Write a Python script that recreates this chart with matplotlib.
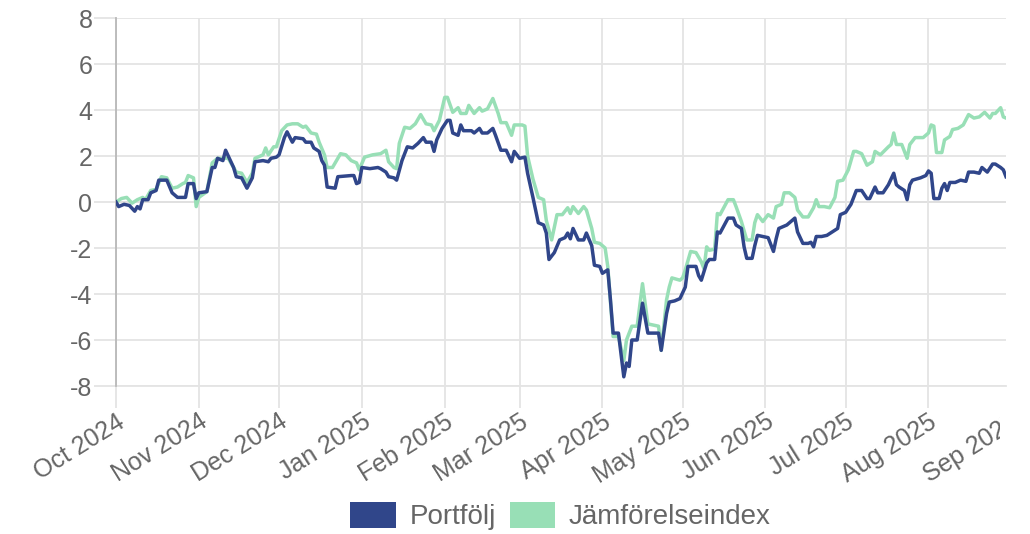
import pandas as pd
import matplotlib
matplotlib.use("Agg")
import matplotlib.pyplot as plt
from matplotlib.patches import Patch
from matplotlib.transforms import Bbox, TransformedBbox

plt.rcParams['font.family'] = ['Liberation Sans', 'DejaVu Sans']

start = pd.Timestamp('2024-10-01')

# Portfölj: days since start, cumulative return (%)
port_days = [0, 1, 3, 5, 7, 8, 9, 10, 12, 13, 15, 16, 19, 21, 23, 26, 27, 29, 30, 31,
             34, 36, 37, 38, 40, 41, 43, 44, 45, 47, 49, 51, 52, 55, 57, 58, 60, 61, 63, 64,
             66, 67, 70, 71, 73, 74, 76, 77, 78, 79, 82, 83, 88, 89, 90, 91, 92, 95, 98, 99,
             101, 102, 104, 105, 107, 109, 111, 113, 115, 116, 118, 119, 120, 122, 124, 125, 126, 128, 129, 130,
             131, 133, 134, 136, 137, 139, 141, 142, 144, 146, 148, 149, 151, 153, 154, 156, 158, 160, 161, 162,
             164, 166, 168, 169, 170, 171, 173, 175, 176, 178, 179, 181, 182, 184, 185, 186, 188, 190, 191, 192,
             193, 195, 197, 199, 203, 204, 206, 207, 209, 211, 213, 214, 217, 218, 219, 221, 222, 224, 225, 226,
             229, 231, 232, 234, 235, 236, 238, 239, 240, 242, 244, 246, 247, 248, 249, 251, 253, 254, 255, 257,
             259, 260, 261, 262, 264, 266, 268, 270, 271, 273, 275, 277, 279, 281, 282, 284, 285, 287, 289, 291,
             292, 293, 295, 296, 297, 298, 301, 303, 304, 305, 306, 308, 309, 310, 311, 312, 314, 316, 318, 319,
             321, 323, 324, 326, 328, 329, 331, 332, 333]
port_vals = [0.0, -0.2, -0.1, -0.15, -0.4, -0.2, -0.3, 0.1, 0.1, 0.4, 0.5, 0.95, 0.95, 0.4, 0.2, 0.2, 0.8, 0.8, 0.15, 0.4,
             0.45, 1.5, 1.5, 1.9, 1.8, 2.25, 1.75, 1.5, 1.1, 1.05, 0.6, 1.05, 1.75, 1.8, 1.75, 1.9, 1.95, 2.05, 2.8, 3.05,
             2.6, 2.8, 2.75, 2.6, 2.6, 2.35, 2.2, 1.8, 1.6, 0.65, 0.6, 1.1, 1.15, 1.15, 0.8, 0.85, 1.5, 1.45, 1.5, 1.45,
             1.3, 1.1, 1.05, 0.95, 1.8, 2.4, 2.35, 2.55, 2.8, 2.6, 2.6, 2.2, 2.7, 3.2, 3.55, 3.55, 3.0, 2.9, 3.35, 3.1,
             3.1, 3.1, 3.0, 3.2, 3.0, 3.0, 3.2, 2.9, 2.25, 2.25, 1.75, 2.2, 1.9, 1.95, 1.25, 0.2, -0.9, -1.0, -1.35, -2.5,
             -2.2, -1.65, -1.55, -1.35, -1.6, -1.15, -1.65, -1.65, -1.35, -1.9, -2.75, -2.8, -3.1, -2.95, -4.25, -5.7, -5.7, -7.6, -7.0, -7.15,
             -6.0, -6.0, -4.4, -5.7, -5.7, -6.45, -4.85, -4.35, -4.3, -4.2, -3.7, -2.8, -2.8, -3.2, -3.4, -2.65, -2.5, -2.5, -1.3, -1.35,
             -0.7, -0.7, -1.0, -1.15, -1.95, -2.45, -2.45, -1.9, -1.45, -1.5, -1.55, -2.15, -1.6, -1.15, -1.1, -1.0, -0.8, -0.7, -1.3, -1.8,
             -1.8, -1.75, -1.95, -1.5, -1.5, -1.45, -1.3, -1.15, -0.55, -0.45, -0.1, 0.5, 0.5, 0.15, 0.15, 0.65, 0.4, 0.4, 0.75, 1.25,
             0.75, 0.65, 0.5, 0.1, 0.75, 0.95, 1.05, 1.15, 1.35, 1.25, 0.15, 0.15, 0.6, 0.8, 0.5, 0.85, 0.85, 0.95, 0.9, 1.3,
             1.3, 1.25, 1.5, 1.3, 1.65, 1.65, 1.5, 1.4, 1.1]

# Jämförelseindex
bench_days = [0, 2, 4, 6, 8, 10, 11, 13, 15, 17, 19, 21, 23, 25, 26, 27, 29, 30, 31, 34,
              36, 38, 40, 42, 43, 45, 47, 49, 51, 52, 55, 56, 57, 59, 60, 62, 64, 66, 68, 70,
              71, 73, 75, 76, 78, 79, 81, 84, 86, 88, 90, 91, 93, 96, 99, 101, 102, 104, 105, 106,
              108, 110, 112, 114, 116, 118, 119, 121, 123, 124, 126, 128, 129, 131, 132, 134, 136, 137, 139, 141,
              143, 144, 146, 148, 149, 152, 153, 154, 156, 158, 160, 161, 163, 164, 165, 167, 169, 170, 171, 173,
              175, 176, 178, 179, 181, 183, 184, 186, 188, 190, 191, 193, 195, 197, 199, 203, 204, 206, 207, 208,
              211, 212, 213, 215, 217, 219, 220, 221, 222, 224, 225, 226, 229, 231, 232, 234, 236, 238, 239, 240,
              242, 244, 246, 247, 249, 250, 252, 254, 255, 257, 259, 261, 262, 263, 265, 267, 269, 270, 272, 274,
              276, 277, 279, 281, 283, 284, 286, 289, 290, 291, 292, 294, 295, 296, 297, 299, 302, 304, 305, 306,
              307, 309, 310, 312, 313, 315, 317, 319, 321, 323, 325, 327, 328, 329, 331, 332, 333]
bench_vals = [0.0, 0.15, 0.2, -0.05, 0.1, 0.2, 0.1, 0.5, 0.55, 1.1, 1.05, 0.6, 0.65, 0.8, 0.85, 1.15, 1.05, -0.2, 0.2, 0.45,
              1.7, 1.9, 1.9, 1.9, 1.7, 1.3, 1.25, 0.85, 1.25, 1.9, 2.05, 2.35, 2.05, 2.4, 2.4, 3.1, 3.35, 3.4, 3.4, 3.25,
              3.3, 3.0, 2.95, 2.6, 2.05, 1.5, 1.5, 2.1, 2.05, 1.8, 1.7, 1.4, 1.95, 2.05, 2.1, 2.25, 1.75, 1.5, 1.45, 2.55,
              3.25, 3.2, 3.4, 3.8, 3.4, 3.35, 3.1, 3.55, 4.55, 4.55, 3.9, 4.1, 3.85, 3.85, 4.2, 3.85, 4.1, 3.95, 4.05, 4.5,
              3.85, 3.45, 3.45, 2.9, 3.35, 3.35, 3.3, 2.0, 1.0, 0.2, 0.1, -0.8, -1.65, -1.1, -0.55, -0.55, -0.25, -0.5, -0.2, -0.5,
              -0.2, -0.35, -1.15, -1.75, -1.8, -2.0, -2.8, -5.85, -5.85, -6.9, -6.0, -5.4, -5.4, -3.55, -5.3, -5.4, -6.45, -4.25, -3.7, -3.3,
              -3.4, -3.3, -2.95, -2.15, -2.2, -2.6, -2.9, -1.95, -2.1, -2.05, -0.5, -0.55, 0.1, 0.1, -0.2, -0.85, -1.65, -1.65, -0.9, -0.55,
              -0.85, -0.55, -0.7, -0.2, -0.1, 0.4, 0.4, 0.2, -0.35, -0.65, -0.65, -0.25, 0.1, -0.2, -0.2, -0.25, 0.2, 0.9, 0.95, 1.4,
              2.2, 2.2, 2.1, 1.6, 1.75, 2.2, 2.05, 2.4, 2.5, 3.0, 2.5, 2.5, 2.2, 1.9, 2.5, 2.8, 2.8, 3.0, 3.35, 3.3,
              2.15, 2.15, 2.7, 2.85, 3.15, 3.2, 3.35, 3.8, 3.65, 3.7, 3.9, 3.65, 3.85, 3.85, 4.1, 3.7, 3.65]

month_labels = ['Oct 2024', 'Nov 2024', 'Dec 2024', 'Jan 2025', 'Feb 2025', 'Mar 2025',
                'Apr 2025', 'May 2025', 'Jun 2025', 'Jul 2025', 'Aug 2025', 'Sep 2025']
y_ticks = [-8, -6, -4, -2, 0, 2, 4, 6, 8]

navy = '#30468A'
green = '#98DFB6'
grid_c = '#e4e4e4'
text_c = '#666666'

port_dates = start + pd.to_timedelta(port_days, unit='D')
bench_dates = start + pd.to_timedelta(bench_days, unit='D')
month_dates = pd.date_range('2024-10-01', periods=len(month_labels), freq='MS')

fig = plt.figure(figsize=(10.3, 5.34), dpi=100)
ax = fig.add_axes([116 / 1030, 1 - 386 / 534, (1006 - 116) / 1030, 368 / 534])

ax.plot(bench_dates, bench_vals, color=green, lw=2.5, zorder=3)
ax.plot(port_dates, port_vals, color=navy, lw=2.5, zorder=4)

ax.set_xlim(port_dates[0], port_dates[-1])
ax.set_ylim(-8, 8)

ax.set_yticks(y_ticks)
ax.set_yticklabels([str(v) for v in y_ticks])
ax.set_xticks(month_dates[:-1])
ax.set_xticklabels(month_labels[:-1])

ax.grid(True, color=grid_c, lw=1.3, zorder=0)
ax.axhline(0, color='#b8b8b8', lw=1.3, zorder=1)
for s in ['top', 'right', 'bottom']:
    ax.spines[s].set_visible(False)
ax.spines['left'].set_color('#b8b8b8')
ax.spines['left'].set_linewidth(1.3)
ax.axhline(-8, color=grid_c, lw=1.3, zorder=0, clip_on=False)

ax.tick_params(axis='both', length=16, width=1.3, color=grid_c, labelcolor=text_c,
               labelsize=18, pad=1)
for lab in ax.get_xticklabels():
    lab.set_rotation(32)
    lab.set_ha('right')
    lab.set_rotation_mode('anchor')

# Sep label sits beyond the plot edge and is cut off by the canvas
clip = TransformedBbox(Bbox([[0, 0], [1000 / 1030, 1]]), fig.transFigure)
t = ax.annotate(month_labels[-1], xy=(month_dates[-1], 0), xycoords=('data', 'axes fraction'),
                xytext=(-1, -17), textcoords='offset points', rotation=32, ha='right', va='top',
                rotation_mode='anchor', fontsize=18, color=text_c, annotation_clip=False)
t.set_clip_on(True)
t.set_clip_box(clip)

handles = [Patch(facecolor=navy, edgecolor='none', label='Portfölj'),
           Patch(facecolor=green, edgecolor='none', label='Jämförelseindex')]
fig.legend(handles=handles, loc='center', bbox_to_anchor=(0.544, 1 - 516 / 534), ncol=2,
           frameon=False, fontsize=20, labelcolor=text_c, handlelength=1.65, handleheight=1.05,
           handletextpad=0.47, columnspacing=0.5)

fig.savefig('out.png', dpi=100)
